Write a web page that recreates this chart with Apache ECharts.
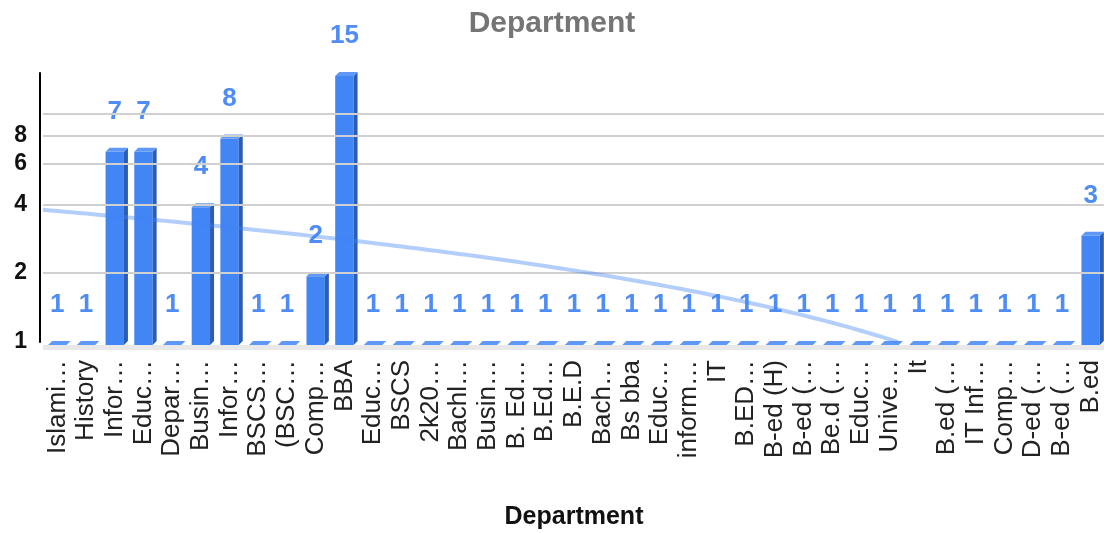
<!DOCTYPE html>
<html><head><meta charset="utf-8">
<script src="https://cdn.jsdelivr.net/npm/echarts@6/dist/echarts.min.js"></script>
<style>html,body{margin:0;padding:0;background:#fff}#c{width:1104px;height:533px}</style>
</head><body><div id="c"></div>
<script>
const categories = ['Islami…','History','Infor…','Educ…','Depar…','Busin…','Infor…','BSCS…','(BSC…','Comp…','BBA','Educ…','BSCS','2k20…','Bachl…','Busin…','B. Ed…','B.Ed…','B.E.D','Bach…','Bs bba','Educ…','inform…','IT','B.ED…','B-ed (H)','B-ed (…','Be.d (…','Educ…','Unive…','It','B.ed (…','IT Inf…','Comp…','D-ed (…','B-ed (…','B.ed'];
const values = [1,1,7,7,1,4,8,1,1,2,15,1,1,1,1,1,1,1,1,1,1,1,1,1,1,1,1,1,1,1,1,1,1,1,1,1,3];
const yTickLabels = [1,2,4,6,8];
const gridValues = [1,2,4,6,8,10];
const yMin = 1, yMax = 15;

// Linear trendline (least squares) fitted to the values, as the source chart does
const n = values.length;
let sx=0, sy=0, sxy=0, sxx=0;
values.forEach((v,i)=>{sx+=i; sy+=v; sxy+=i*v; sxx+=i*i;});
const slope = (n*sxy - sx*sy)/(n*sxx - sx*sx);
const intercept = (sy - slope*sx)/n;
const trend = [];
for (let x=-0.5; x<=n-0.5; x+=0.25) {
  const y = intercept + slope*x;
  if (y <= yMin) { trend.push([(yMin-intercept)/slope, yMin]); break; }
  trend.push([x, y]);
}

const FRONT='#4285f4', SIDE='#2c5cb4', TOP='#5f98f6', FLOOR='#e8e8e8', LABEL='#4f8cf5';
const chart = echarts.init(document.getElementById('c'), null, {renderer:'canvas'});
chart.setOption({
  animation:false,
  title:{text:'Department', left:'center', top:4,
    textStyle:{fontSize:30, fontWeight:'bold', color:'#757575', fontFamily:'Liberation Sans'}},
  grid:{left:43, width:1062, top:73, bottom:191, outerBoundsMode:'none', containLabel:false},
  xAxis:[{
    type:'category', data:categories,
    axisLine:{show:false}, axisTick:{show:false}, splitLine:{show:false},
    axisLabel:{interval:0, rotate:90, margin:18, fontSize:26, color:'#222', fontFamily:'Liberation Sans'},
    name:'Department', nameLocation:'middle', nameGap:163,
    nameTextStyle:{fontSize:25, fontWeight:'bold', color:'#111', fontFamily:'Liberation Sans'}
  },{
    type:'value', min:-0.5, max:n-0.5, show:false
  }],
  yAxis:{
    type:'log', logBase:10, min:yMin, max:yMax, offset:3,
    axisLine:{show:true, onZero:false, lineStyle:{color:'#000', width:2}},
    axisTick:{show:false}, axisLabel:{show:false}, splitLine:{show:false}
  },
  series:[
    {
      type:'line', xAxisIndex:0, yAxisIndex:0, z:1, silent:true,
      data:categories.map(()=>null), showSymbol:false,
      markLine:{
        silent:true, symbol:'none', animation:false,
        data:gridValues.map(v=>({
          yAxis:v,
          lineStyle:{color: v===yMin ? 'rgba(0,0,0,0)' : '#d0d0d0', width:2, type:'solid'},
          label:{show: yTickLabels.indexOf(v)>=0, formatter:String(v), position:'start', distance:16,
            fontSize:23, fontWeight:'bold', color:'#111', fontFamily:'Liberation Sans'}
        }))
      }
    },
    {
      type:'custom', xAxisIndex:0, yAxisIndex:0, z:3,
      data: values.map((v,i)=>[i,v]),
      renderItem:function(params, api){
        const idx = api.value(0), v = api.value(1);
        const top = api.coord([idx, v]);
        const base = api.coord([idx, yMin]);
        const cw = api.size([1,0])[0];
        const bw = cw*0.64, d = 4, off = 3;
        const cx = top[0];
        const x0 = cx - bw/2, x1 = cx + bw/2;
        const yb = base[1] + off, yt = top[1] + off;
        const children = [
          {type:'rect', shape:{x:cx-cw/2, y:yb, width:cw+0.6, height:5}, style:{fill:FLOOR}},
        ];
        if (yb - yt > 0.5) {
          children.push({type:'rect', shape:{x:x0, y:yt, width:bw, height:yb-yt}, style:{fill:FRONT}});
          children.push({type:'polygon', shape:{points:[[x1,yt],[x1+d,yt-d],[x1+d,yb-d],[x1,yb]]}, style:{fill:SIDE}});
        }
        children.push({type:'polygon', shape:{points:[[x0,yt],[x0+d,yt-d],[x1+d,yt-d],[x1,yt]]}, style:{fill:TOP}});
        children.push({type:'text', style:{text:String(v), x:cx, y:yt-40,
          textAlign:'center', textVerticalAlign:'middle', align:'center', verticalAlign:'middle',
          fontSize:26, fontWeight:'bold', fontFamily:'Liberation Sans', fill:LABEL}});
        return {type:'group', children:children};
      }
    },
    {
      type:'line', xAxisIndex:1, yAxisIndex:0, z:5, silent:true,
      data:trend, showSymbol:false, clip:true,
      lineStyle:{color:'rgba(66,133,244,0.4)', width:4}
    }
  ]
});
</script></body></html>
